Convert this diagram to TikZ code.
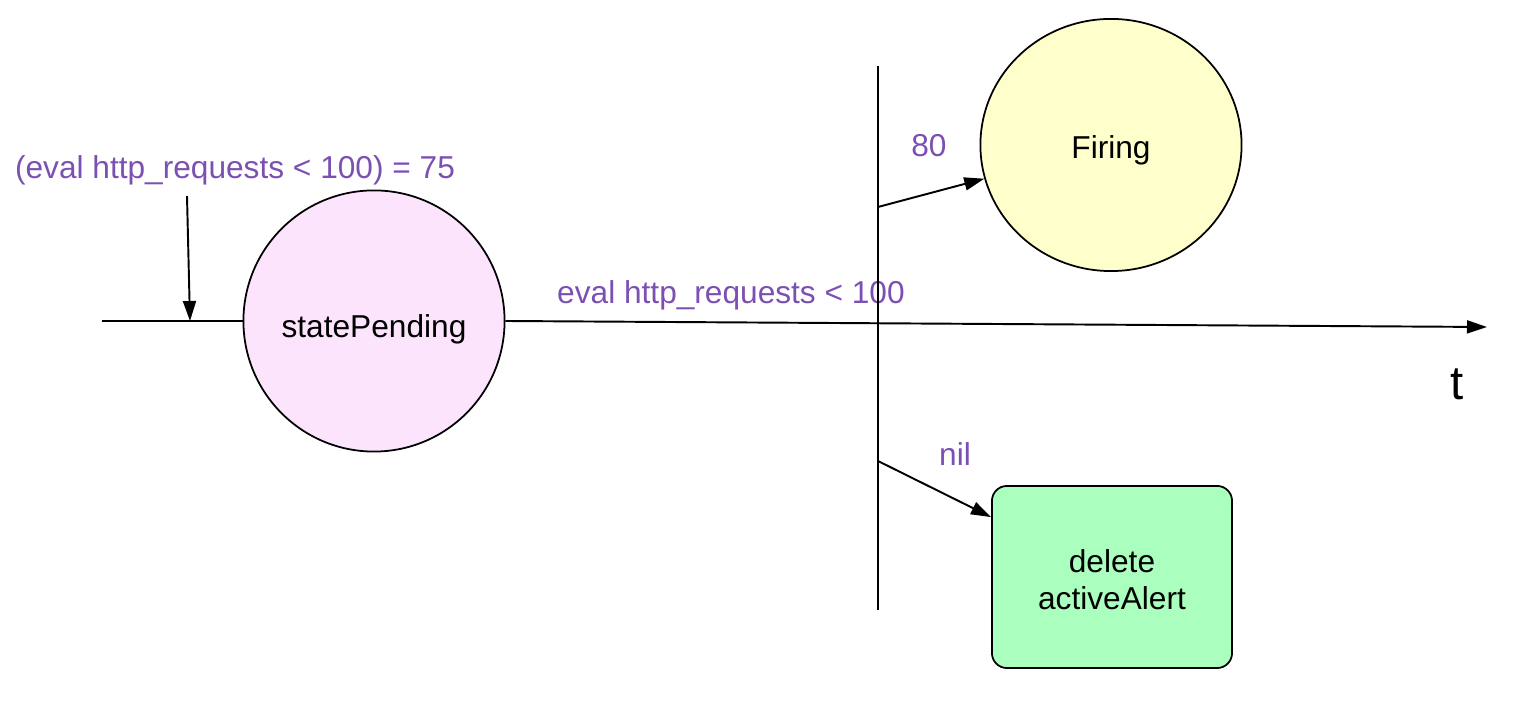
\documentclass[tikz,border=0pt]{standalone}
\usepackage{fontspec}
\setmainfont{Liberation Sans}
\usetikzlibrary{shapes.geometric,arrows.meta}
\definecolor{lblpurple}{RGB}{124,80,178}
\definecolor{pinkfill}{RGB}{252,228,252}
\definecolor{yellowfill}{RGB}{255,255,204}
\definecolor{greenfill}{RGB}{170,255,190}
\newcommand{\lowertext}[2]{\raisebox{-#1}[\height][\depth]{#2}}
\tikzset{
  txt/.style={font=\fontsize{9}{10.5}\selectfont, inner sep=0pt},
  lbl/.style={txt, text=lblpurple},
  state/.style={draw=black, line width=0.5pt, txt},
  conn/.style={draw=black, line width=0.55pt},
  arr/.style={conn, -{Triangle[length=0.2cm,width=0.13cm]}, shorten >=0pt}
}
\begin{document}
\begin{tikzpicture}[x=0.01cm,y=-0.01cm]
\useasboundingbox (0,0) rectangle (1538,710);
% nodes
\node[state, circle, fill=pinkfill, minimum size=2.61cm] (pending) at (374,321) {\lowertext{0.08cm}{statePending}};
\node[state, ellipse, fill=yellowfill, minimum width=2.61cm, minimum height=2.52cm] (firing) at (1111,145) {\lowertext{0.05cm}{Firing}};
\node[state, rectangle, rounded corners=0.15cm, fill=greenfill, minimum width=2.40cm, minimum height=1.82cm, align=center] (box) at (1112,577) {\lowertext{0.03cm}{delete}\\\lowertext{0.03cm}{activeAlert}};
% labels
\node[lbl] (l1) at (235,170) {(eval http\_requests < 100) = 75};
\node[lbl] (l2) at (731,295) {eval http\_requests < 100};
\node[lbl] (l3) at (929,146) {80};
\node[lbl] (l4) at (955,454) {nil};
\node[font=\fontsize{13.5}{15}\selectfont, inner sep=0pt] (tl) at (1457,384) {t};
% coordinates
\coordinate (tstart) at (102,321);
\coordinate (tend) at (1487,327);
\coordinate (dstart) at (187,196);
\coordinate (dend) at (190,321);
\coordinate (vtop) at (878,66);
\coordinate (vbot) at (878,610);
\coordinate (fstart) at (878,207);
\coordinate (nstart) at (878,461);
% connectors
\draw[conn] (tstart) -- (pending.west);
\draw[arr] (pending.east) -- (tend);
\draw[arr] (dstart) -- (dend);
\draw[conn] (vtop) -- (vbot);
\draw[arr] (fstart) -- (firing);
\draw[arr] (nstart) -- (box);
\end{tikzpicture}
\end{document}
